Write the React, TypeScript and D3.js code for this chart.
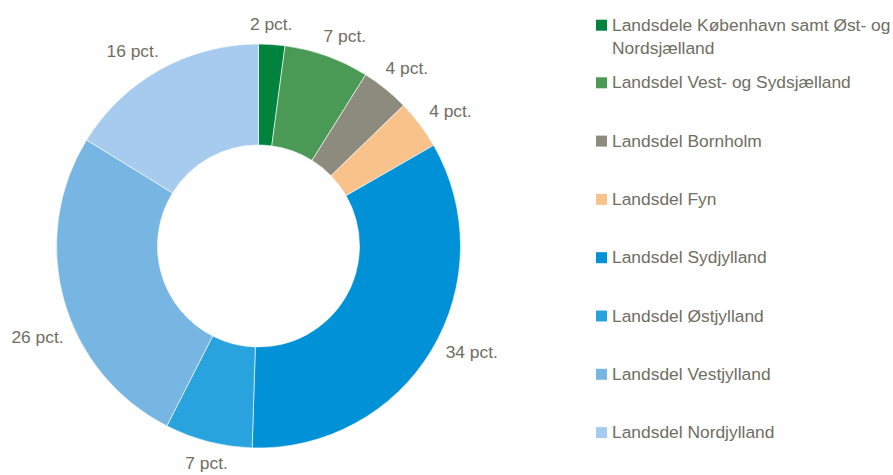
import React from "react";
import * as d3 from "d3";

// Regions, shares (pct) and colours
const regions = [
  "Landsdele København samt Øst- og Nordsjælland",
  "Landsdel Vest- og Sydsjælland",
  "Landsdel Bornholm",
  "Landsdel Fyn",
  "Landsdel Sydjylland",
  "Landsdel Østjylland",
  "Landsdel Vestjylland",
  "Landsdel Nordjylland",
];
const shares = [2.1, 6.8, 3.85, 3.95, 33.8, 7.0, 26.3, 16.2];
const labels = ["2 pct.", "7 pct.", "4 pct.", "4 pct.", "34 pct.", "7 pct.", "26 pct.", "16 pct."];
const legendLines = [
  ["Landsdele København samt Øst- og", "Nordsjælland"],
  ["Landsdel Vest- og Sydsjælland"],
  ["Landsdel Bornholm"],
  ["Landsdel Fyn"],
  ["Landsdel Sydjylland"],
  ["Landsdel Østjylland"],
  ["Landsdel Vestjylland"],
  ["Landsdel Nordjylland"],
];
const colors = [
  "#00843d",
  "#4a9955",
  "#8d8b7d",
  "#f9c28b",
  "#0091d6",
  "#29a3dd",
  "#77b5e3",
  "#a6cbee",
];

const width = 893;
const height = 475;
const cx = 258.5;
const cy = 246;
const outerR = 202;
const innerR = 101;
const textColor = "#6f6e62";
const fontSize = 17.4;
const font = "'Liberation Sans', Arial, sans-serif";
// labels in the original were nudged a little off the slice middle (degrees)
const labelNudge = [-0.5, 2.6, 1, 2.1, -4.3, -1, -6.9, -3.8];

// rough Arial advance width of a label
const labelWidth = (s: string) => {
  let w = 0;
  for (const ch of s) {
    if (/[0-9]/.test(ch)) w += 0.556;
    else if (ch === " " || ch === "." || ch === "t") w += 0.278;
    else if (ch === "c") w += 0.5;
    else w += 0.556;
  }
  return w * fontSize;
};

export default function App() {
  const data = regions.map((name, i) => ({ name, value: shares[i], label: labels[i], color: colors[i] }));
  const pie = d3
    .pie<any>()
    .value((d) => d.value)
    .sort(null);
  const arcs = pie(data);
  const arc = d3.arc<any>().innerRadius(innerR).outerRadius(outerR);

  const legendX = 596;
  const legendBaseline = (i: number) => (i === 0 ? 30.7 : 88.3 + (i - 1) * 58.3);

  return (
    <svg width={width} height={height} style={{ position: "absolute", left: 0, top: 0 }}>
      <rect width={width} height={height} fill="#fff" />
      <g transform={`translate(${cx},${cy})`}>
        {arcs.map((a, i) => (
          <path key={i} d={arc(a) as string} fill={a.data.color} stroke="#fff" strokeWidth={0.6} />
        ))}
        {arcs.map((a, i) => {
          const mid = (a.startAngle + a.endAngle) / 2 + (labelNudge[i] * Math.PI) / 180;
          const w = labelWidth(a.data.label);
          const dist = outerR + 18 + 0.8 * (w / 2) * Math.abs(Math.sin(mid));
          const x = Math.sin(mid) * dist;
          const y = -Math.cos(mid) * dist;
          return (
            <text
              key={i}
              x={x}
              y={y + 5}
              textAnchor="middle"
              fontFamily={font}
              fontSize={fontSize}
              fill={textColor}
            >
              {a.data.label}
            </text>
          );
        })}
      </g>
      <g>
        {legendLines.map((lines, i) => {
          const base = legendBaseline(i);
          return (
            <g key={i}>
              <rect x={legendX} y={base - 11} width={11} height={11} fill={colors[i]} />
              {lines.map((ln, j) => (
                <text
                  key={j}
                  x={legendX + 16}
                  y={base + j * 23.3}
                  fontFamily={font}
                  fontSize={fontSize}
                  fill={textColor}
                >
                  {ln}
                </text>
              ))}
            </g>
          );
        })}
      </g>
    </svg>
  );
}
